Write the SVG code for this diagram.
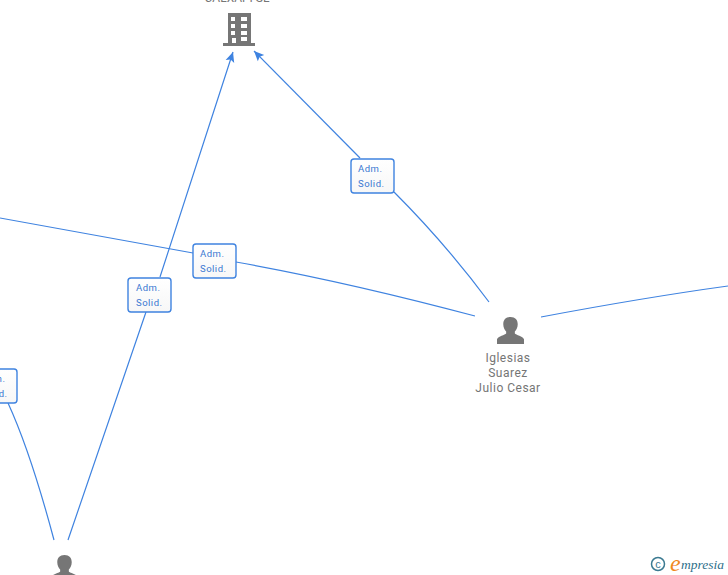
<svg xmlns="http://www.w3.org/2000/svg" width="728" height="575" viewBox="0 0 728 575">
<style>
.c{fill:none;stroke:#3f83e0;stroke-width:1.2}
.b{fill:url(#g);stroke:#3f83e0;stroke-width:1.4}
.l{font:9.5px Roboto,"Liberation Sans",Arial,sans-serif;fill:#3a78d2;letter-spacing:.5px}
.n{font:12px Roboto,"Liberation Sans",Arial,sans-serif;fill:#757575;text-anchor:middle;letter-spacing:.5px}
.i{fill:#767676}
</style>
<defs>
<linearGradient id="g" x1="0" y1="0" x2="0" y2="1"><stop offset="0" stop-color="#fff"/><stop offset="1" stop-color="#f7f7f7"/></linearGradient>
<marker id="a" markerWidth="11" markerHeight="11" refX="10" refY="5" orient="auto" markerUnits="userSpaceOnUse"><path d="M0 0.500L10 5L0 9.500L2 5Z" fill="#3f83e0"/></marker>
<symbol id="p" viewBox="0 0 28 28" overflow="visible"><path d="M14 0c5 0 7.500 3 7.500 7.500c0 3-1.500 6-3 7.500v2c1 1.500 8.500 3 9.500 6v5H0v-5c1-3 8.500-4.500 9.500-6v-2c-1.500-1.500-3-4.500-3-7.500C6.500 3 9 0 14 0z"/></symbol>
</defs>
<g id="connectors">
<path class="c" marker-end="url(#a)" d="M68 540L146 312M160 277L233 52"/>
<path class="c" marker-end="url(#a)" d="M360 158L254 51"/>
<path class="c" d="M394 192C430 228 460 263 489 302"/>
<path class="c" d="M0 218L193 253M236 262C320 277 400 296 475 316"/>
<path class="c" d="M541 317C610 304 670 294 728 286"/>
<path class="c" d="M8 403C25 440 42 495 54 540"/>
</g>
<g id="edge-labels">
<g><rect class="b" x="351" y="159" width="43" height="34" rx="3"/><text class="l" x="358" y="172">Adm.</text><text class="l" x="358" y="187">Solid.</text></g>
<g><rect class="b" x="193" y="244" width="43" height="34" rx="3"/><text class="l" x="200" y="257">Adm.</text><text class="l" x="200" y="272">Solid.</text></g>
<g><rect class="b" x="128" y="278" width="43" height="34" rx="3"/><text class="l" x="136" y="291">Adm.</text><text class="l" x="136" y="306">Solid.</text></g>
<g><rect class="b" x="-26" y="369" width="43" height="34" rx="3"/><text class="l" x="-19" y="382">Adm.</text><text class="l" x="-19" y="397">Solid.</text></g>
</g>
<g id="node-company">
<text class="n" x="237" y="2" style="letter-spacing:0">CALXAPI SL</text>
<path class="i" fill-rule="evenodd" d="M228 13H251V43H255V46H223V43H228ZM231 17V21H235V17ZM241 17V21H247V17ZM231 24V28H235V24ZM241 24V28H247V24ZM231 31V35H235V31ZM241 31V35H247V31ZM232 38V43H236V38ZM241 37V41H247V37Z"/>
</g>
<g id="node-iglesias">
<use class="i" href="#p" x="497" y="317" width="27" height="27"/>
<text class="n" x="508" y="362">Iglesias</text>
<text class="n" x="508" y="377">Suarez</text>
<text class="n" x="508" y="392">Julio Cesar</text>
</g>
<g id="node-person-bottom">
<use class="i" href="#p" x="51" y="555" width="27" height="27"/>
</g>
<g id="empresia">
<circle cx="658" cy="564" r="6.500" fill="none" stroke="#3b7a91" stroke-width="1.500"/>
<text x="658" y="568" font-family="Liberation Sans,sans-serif" font-size="11" fill="#3b7a91" text-anchor="middle">c</text>
<text x="670" y="571" font-family="Liberation Serif,serif" font-style="italic" font-size="24" fill="#f08a1d">e</text>
<text x="681" y="569" font-family="Liberation Serif,serif" font-style="italic" font-size="13.500" fill="#2f6f8a">mpresia</text>
</g>
</svg>
